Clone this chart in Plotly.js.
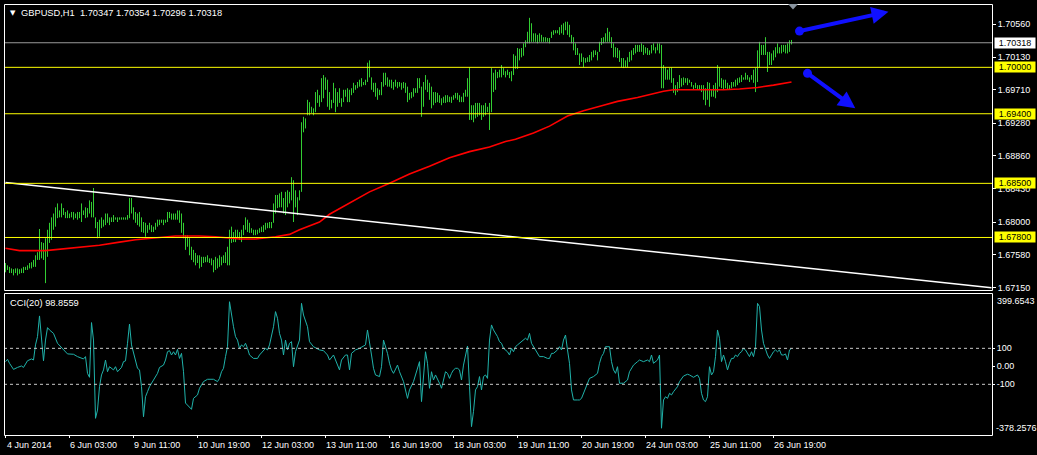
<!DOCTYPE html>
<html><head><meta charset="utf-8">
<script src="https://cdn.plot.ly/plotly-3.0.1.min.js"></script>
<style>html,body{margin:0;padding:0;background:#000;overflow:hidden}#chart{width:1037px;height:455px}</style>
</head><body><div id="chart"></div>
<script>
// ---- GBPUSD H1 bars (bar 0 = first visible bar, 4 Jun 2014) ----
const highs = [
1.6747,1.6744,1.6742,1.6740,1.6739,1.6740,1.6740,1.6739,1.6740,1.6742,
1.6742,1.6744,1.6747,1.6748,1.6751,1.6757,1.6761,1.6791,1.6774,1.6773,
1.6779,1.6790,1.6799,1.6806,1.6811,1.6819,1.6824,1.6815,1.6824,1.6818,
1.6813,1.6815,1.6811,1.6813,1.6813,1.6811,1.6813,1.6813,1.6824,1.6815,
1.6819,1.6818,1.6828,1.6826,1.6844,1.6806,1.6800,1.6803,1.6806,1.6803,
1.6811,1.6811,1.6806,1.6806,1.6809,1.6806,1.6806,1.6806,1.6806,1.6806,
1.6806,1.6809,1.6831,1.6831,1.6819,1.6813,1.6811,1.6813,1.6806,1.6800,
1.6799,1.6796,1.6799,1.6796,1.6794,1.6799,1.6803,1.6803,1.6803,1.6803,
1.6803,1.6813,1.6813,1.6811,1.6811,1.6811,1.6815,1.6815,1.6811,1.6799,
1.6783,1.6783,1.6779,1.6768,1.6764,1.6760,1.6757,1.6757,1.6755,1.6755,
1.6755,1.6757,1.6753,1.6753,1.6751,1.6755,1.6753,1.6757,1.6755,1.6757,
1.6761,1.6768,1.6790,1.6794,1.6787,1.6790,1.6790,1.6787,1.6790,1.6796,
1.6806,1.6803,1.6799,1.6792,1.6790,1.6790,1.6790,1.6792,1.6794,1.6796,
1.6799,1.6799,1.6800,1.6800,1.6824,1.6835,1.6835,1.6837,1.6839,1.6831,
1.6839,1.6841,1.6839,1.6858,1.6854,1.6841,1.6832,1.6841,1.6929,1.6936,
1.6934,1.6958,1.6955,1.6949,1.6947,1.6968,1.6971,1.6964,1.6986,1.6990,
1.6987,1.6984,1.6968,1.6958,1.6980,1.6973,1.6968,1.6973,1.6960,1.6971,
1.6971,1.6973,1.6971,1.6973,1.6980,1.6977,1.6981,1.6984,1.6986,1.6981,
1.6984,1.7006,1.7009,1.6987,1.6980,1.6980,1.6973,1.6971,1.6981,1.6993,
1.6993,1.6987,1.6984,1.6984,1.6981,1.6984,1.6981,1.6981,1.6980,1.6981,
1.6980,1.6975,1.6967,1.6968,1.6973,1.6973,1.6986,1.6986,1.6975,1.6981,
1.6990,1.6984,1.6980,1.6975,1.6968,1.6968,1.6967,1.6964,1.6960,1.6962,
1.6964,1.6964,1.6962,1.6962,1.6964,1.6967,1.6967,1.6964,1.6962,1.6967,
1.6971,1.6986,1.7000,1.6951,1.6951,1.6954,1.6954,1.6954,1.6951,1.6951,
1.6954,1.6949,1.6954,1.6999,1.6993,1.6997,1.6994,1.6997,1.7003,1.6999,
1.6995,1.6997,1.6994,1.6995,1.7017,1.7015,1.7025,1.7024,1.7025,1.7031,
1.7035,1.7046,1.7064,1.7057,1.7044,1.7044,1.7042,1.7044,1.7042,1.7039,
1.7039,1.7038,1.7038,1.7046,1.7048,1.7048,1.7048,1.7052,1.7055,1.7057,
1.7059,1.7059,1.7055,1.7042,1.7039,1.7031,1.7025,1.7018,1.7018,1.7013,
1.7012,1.7013,1.7016,1.7020,1.7022,1.7022,1.7020,1.7033,1.7038,1.7039,
1.7044,1.7051,1.7046,1.7039,1.7031,1.7026,1.7025,1.7022,1.7012,1.7012,
1.7009,1.7013,1.7020,1.7022,1.7025,1.7029,1.7029,1.7029,1.7031,1.7029,
1.7026,1.7025,1.7022,1.7029,1.7031,1.7026,1.7031,1.7031,1.7029,1.7003,
1.7000,1.6997,1.6999,1.7000,1.6986,1.6977,1.6981,1.6990,1.6986,1.6987,
1.6986,1.6986,1.6984,1.6981,1.6977,1.6980,1.6977,1.6977,1.6977,1.6977,
1.6973,1.6981,1.6980,1.6971,1.6977,1.6980,1.7003,1.7000,1.6986,1.6984,
1.6984,1.6980,1.6977,1.6981,1.6981,1.6984,1.6986,1.6987,1.6990,1.6987,
1.6993,1.6990,1.6987,1.6990,1.6997,1.6999,1.7022,1.7033,1.7029,1.7029,
1.7039,1.7020,1.7020,1.7018,1.7022,1.7026,1.7031,1.7026,1.7029,1.7029,
1.7029,1.7031,1.7035,1.70354];
const lows = [
1.6735,1.6738,1.6734,1.6734,1.6731,1.6734,1.6731,1.6733,1.6734,1.6734,
1.6738,1.6738,1.6740,1.6740,1.6742,1.6742,1.6751,1.6751,1.6753,1.6751,
1.6721,1.6755,1.6773,1.6777,1.6790,1.6794,1.6805,1.6806,1.6806,1.6809,
1.6805,1.6805,1.6805,1.6806,1.6803,1.6805,1.6803,1.6805,1.6800,1.6809,
1.6805,1.6806,1.6811,1.6806,1.6806,1.6792,1.6779,1.6781,1.6792,1.6794,
1.6796,1.6799,1.6796,1.6800,1.6800,1.6803,1.6800,1.6803,1.6803,1.6803,
1.6803,1.6803,1.6805,1.6811,1.6803,1.6799,1.6796,1.6794,1.6787,1.6786,
1.6781,1.6786,1.6790,1.6787,1.6787,1.6790,1.6794,1.6796,1.6799,1.6796,
1.6799,1.6800,1.6805,1.6803,1.6803,1.6803,1.6803,1.6799,1.6786,1.6779,
1.6764,1.6768,1.6757,1.6751,1.6748,1.6744,1.6747,1.6740,1.6742,1.6747,
1.6748,1.6748,1.6747,1.6744,1.6735,1.6738,1.6740,1.6742,1.6744,1.6747,
1.6747,1.6744,1.6744,1.6773,1.6774,1.6774,1.6779,1.6777,1.6774,1.6783,
1.6790,1.6787,1.6786,1.6786,1.6783,1.6783,1.6784,1.6786,1.6787,1.6787,
1.6790,1.6792,1.6792,1.6792,1.6799,1.6811,1.6818,1.6819,1.6819,1.6811,
1.6809,1.6819,1.6824,1.6828,1.6800,1.6819,1.6809,1.6828,1.6839,1.6916,
1.6921,1.6938,1.6938,1.6941,1.6938,1.6942,1.6954,1.6949,1.6955,1.6960,
1.6971,1.6949,1.6945,1.6947,1.6954,1.6942,1.6949,1.6954,1.6949,1.6955,
1.6962,1.6955,1.6955,1.6964,1.6967,1.6971,1.6973,1.6975,1.6975,1.6977,
1.6977,1.6981,1.6987,1.6971,1.6968,1.6962,1.6958,1.6964,1.6964,1.6975,
1.6977,1.6975,1.6975,1.6973,1.6971,1.6975,1.6973,1.6975,1.6971,1.6973,
1.6967,1.6955,1.6958,1.6960,1.6962,1.6967,1.6967,1.6973,1.6936,1.6949,
1.6971,1.6968,1.6958,1.6947,1.6951,1.6954,1.6955,1.6954,1.6951,1.6954,
1.6954,1.6955,1.6955,1.6954,1.6958,1.6960,1.6958,1.6955,1.6955,1.6955,
1.6962,1.6962,1.6932,1.6932,1.6929,1.6934,1.6936,1.6938,1.6932,1.6936,
1.6938,1.6942,1.6919,1.6942,1.6968,1.6971,1.6986,1.6987,1.6987,1.6990,
1.6987,1.6990,1.6986,1.6982,1.6990,1.6998,1.6998,1.7009,1.7013,1.7015,
1.7026,1.7031,1.7031,1.7033,1.7033,1.7033,1.7031,1.7033,1.7033,1.7033,
1.7033,1.7033,1.7031,1.7038,1.7042,1.7044,1.7044,1.7042,1.7044,1.7042,
1.7048,1.7042,1.7039,1.7031,1.7022,1.7016,1.7016,1.7003,1.7007,1.7000,
1.7006,1.7007,1.7007,1.7009,1.7013,1.7016,1.7009,1.7020,1.7029,1.7031,
1.7033,1.7033,1.7033,1.7025,1.7013,1.7013,1.7012,1.7007,1.7000,1.6999,
1.7000,1.7000,1.7007,1.7009,1.7016,1.7018,1.7020,1.7020,1.7020,1.7016,
1.7018,1.7016,1.7016,1.7018,1.7022,1.7018,1.7022,1.7018,1.6973,1.6973,
1.6984,1.6984,1.6984,1.6980,1.6967,1.6964,1.6968,1.6973,1.6975,1.6977,
1.6980,1.6977,1.6980,1.6975,1.6971,1.6973,1.6971,1.6971,1.6968,1.6958,
1.6951,1.6958,1.6949,1.6962,1.6962,1.6960,1.6968,1.6975,1.6973,1.6971,
1.6973,1.6971,1.6971,1.6973,1.6975,1.6975,1.6977,1.6980,1.6981,1.6984,
1.6984,1.6984,1.6981,1.6984,1.6980,1.6968,1.6981,1.7000,1.7016,1.7016,
1.7016,1.6994,1.7003,1.7003,1.7009,1.7013,1.7018,1.7018,1.7018,1.7020,
1.7018,1.7018,1.7020,1.70296];

// ---- Moving average (red) read at selected bars ----
const maIdx = [0,7,20,27,37,47,57,65,77,85,97,105,117,125,135,142,147,157,162,172,182,192,202,212,222,232,242,250,255,264,272,281,289,299,306,316,322,329,334,359,367,376,384,393];
const maVal = [1.6766,1.6763,1.6763,1.6765,1.6768,1.6770,1.6774,1.6777,1.6780,1.6782,1.6782,1.6781,1.6778,1.6778,1.6781,1.6784,1.6790,1.6800,1.6810,1.6824,1.6839,1.6850,1.6862,1.6872,1.6883,1.6891,1.6897,1.6904,1.6907,1.6915,1.6924,1.6937,1.6944,1.6951,1.6956,1.6961,1.6965,1.6969,1.6971,1.6971,1.6972,1.6974,1.6977,1.6981];

// ---- CCI(20) ----
const cciIdx = [0,1,2,4,6,8,9,11,13,14,15,16,17,18,19,20,21,22,24,26,29,31,34,36,39,40,41,42,43,44,45,46,47,48,49,50,51,52,54,55,56,58,59,60,61,62,63,64,65,66,67,68,69,70,71,72,74,76,77,79,80,81,82,83,84,85,86,87,88,89,90,91,92,93,94,95,96,97,99,101,104,106,107,108,109,110,111,112,113,114,115,116,117,118,119,120,121,122,124,126,127,129,130,131,132,134,135,136,137,138,139,140,141,142,143,144,
145,147,148,149,151,152,154,157,159,161,162,164,165,167,168,170,171,172,173,175,177,180,181,182,183,184,185,187,188,189,191,192,193,194,196,197,199,201,202,204,206,207,208,209,210,211,212,213,214,215,216,217,218,219,220,221,222,223,224,225,226,227,228,229,230,231,232,233,234,235,236,237,238,239,240,241,242,243,244,246,247,248,249,251,252,253,254,255,256,257,259,260,261,262,263,264,266,267,269,271,272,273,274,276,277,278,279,280,281,282,283,284,286,287,288,289,291,292,294,296,297,298,299,300,302,303,304,305,306,307,309,311,312,314,316,317,319,321,322,323,324,326,327,328,329,330,331,332,333,334,336,337,339,341,342,344,346,347,348,349,350,351,352,353,354,355,356,357,358,359,360,361,362,363,364,365,366,367,368,369,370,371,372,373,374,375,376,377,378,379,380,381,382,384,385,386,387,388,389,390,391,392,393];
const cciVal = [26,39,17,-17,-6,2,-6,31,41,35,119,165,280,146,31,146,215,202,183,128,91,69,67,54,41,54,-39,-61,243,146,-289,-243,-113,-48,-20,35,-30,-2,-20,-2,-30,-6,26,30,128,235,119,72,26,-11,-20,-113,-280,-169,-141,-113,-76,-39,-6,7,35,81,87,63,81,63,94,44,72,-30,-204,-215,-224,-239,-178,-169,-159,-122,-85,-72,-72,-85,-67,-30,-11,54,109,359,276,220,165,146,100,119,109,128,100,63,44,44,63,91,100,91,119,220,304,267,183,146,63,146,91,128,137,-2,
81,146,350,285,220,137,109,91,87,63,35,63,35,-20,35,63,63,-20,72,91,100,119,202,119,63,-11,-48,-57,-2,146,72,17,-20,-39,7,-30,-85,-178,-131,-85,-2,26,-196,-39,81,17,-122,-30,-76,-48,-67,-94,-122,-67,-30,-39,-67,-39,-20,-11,-11,-20,-76,7,54,113,-113,-335,-250,-131,-113,-57,-131,-57,-48,-67,146,230,202,165,137,128,100,81,63,100,81,109,119,128,150,156,146,183,128,109,72,54,54,44,44,72,72,91,109,91,146,174,91,17,-131,-187,-187,-187,-178,-150,-85,-67,-57,-39,17,54,72,109,109,26,-20,-39,-2,-94,-94,-76,-30,7,26,35,26,35,26,63,17,35,63,-344,-187,-169,-178,-150,-159,-141,-113,-85,-54,-44,-48,-61,-48,-67,-150,-187,-196,-169,-2,-48,-30,54,202,156,26,63,26,-20,17,44,44,63,54,72,81,100,91,72,54,81,54,109,350,332,202,128,91,63,44,81,91,81,91,63,63,69,35,91,98.8559];
const cciLevels = [100, -100];
const cciMax = 399.6543, cciMin = -378.2576;

// ---- drawn objects ----
const trendIdx = [0, 493];
const trendVal = [1.6851, 1.6715];
const levels = [1.70000, 1.69400, 1.68500, 1.67800];
const bidPrice = 1.70318;
const arrowFromIdx = [397, 401], arrowFromVal = [1.70469, 1.69922];
const arrowToIdx = [441.5, 424.9], arrowToVal = [1.70719, 1.69470];

// ---- axis labels ----
const priceTicks = [1.70560,1.70130,1.69710,1.69280,1.68860,1.68430,1.68000,1.67580,1.67150];
const cciTicks = [100, 0, -100];
const cciTickText = ['100', '0.00', '-100'];
const timeIdx = [0,32,64,96,128,160,192,224,256,288,320,352,384];
const timeLabels = ['4 Jun 2014','6 Jun 03:00','9 Jun 11:00','10 Jun 19:00','12 Jun 03:00','13 Jun 11:00','16 Jun 19:00','18 Jun 03:00','19 Jun 11:00','20 Jun 19:00','24 Jun 03:00','25 Jun 11:00','26 Jun 19:00'];
const header = 'GBPUSD,H1\u00a0 1.70347 1.70354 1.70296 1.70318';
const cciHeader = 'CCI(20) 98.8559';

// ---- build ----
const W = 1037, H = 455, ML = 4, MR = 45, MT = 4, MB = 19;
const PW = W - ML - MR, PH = H - MT - MB;
const yp = py => (H - MB - py) / PH;   // pixel row -> paper y
const xp = px => (px - ML) / PW;       // pixel column -> paper x
const FONT = 'Liberation Sans, Arial, sans-serif';
const txt = '#ffffff';

const bx = [], by = [];
highs.forEach((h, i) => { bx.push(i, i, null); by.push(h, lows[i], null); });

const traces = [
  {x: bx, y: by, type: 'scatter', mode: 'lines', line: {color: '#32cd32', width: 1}, xaxis: 'x', yaxis: 'y', hoverinfo: 'skip'},
  {x: maIdx, y: maVal, type: 'scatter', mode: 'lines', line: {color: '#ff0000', width: 1.6}, xaxis: 'x', yaxis: 'y'},
  {x: trendIdx, y: trendVal, type: 'scatter', mode: 'lines', line: {color: '#ffffff', width: 1.5}, xaxis: 'x', yaxis: 'y'},
  {x: arrowFromIdx, y: arrowFromVal, type: 'scatter', mode: 'markers', marker: {color: '#1010ff', size: 9}, xaxis: 'x', yaxis: 'y'},
  {x: cciIdx, y: cciVal, type: 'scatter', mode: 'lines', line: {color: '#20b2aa', width: 1}, xaxis: 'x', yaxis: 'y2'}
];

const shapes = [];
levels.forEach(v => shapes.push({type: 'line', xref: 'paper', yref: 'y', x0: 0, x1: 1, y0: v, y1: v, line: {color: '#ffff00', width: 1}}));
shapes.push({type: 'line', xref: 'paper', yref: 'y', x0: 0, x1: 1, y0: bidPrice, y1: bidPrice, line: {color: '#9a9a9a', width: 1}});
cciLevels.forEach(v => shapes.push({type: 'line', xref: 'paper', yref: 'y2', x0: 0, x1: 1, y0: v, y1: v, line: {color: '#c8c8c8', width: 1, dash: '3px,3px'}}));
// panel frames (half-pixel aligned for crisp 1px lines)
shapes.push({type: 'rect', xref: 'paper', yref: 'paper', x0: xp(4.5), x1: xp(992.5), y0: yp(290.5), y1: yp(4.5), line: {color: '#ffffff', width: 1}});
shapes.push({type: 'rect', xref: 'paper', yref: 'paper', x0: xp(4.5), x1: xp(992.5), y0: yp(435.5), y1: yp(293.5), line: {color: '#ffffff', width: 1}});
// chart-shift marker
shapes.push({type: 'path', xref: 'paper', yref: 'paper', path: `M ${xp(788)} ${yp(4)} L ${xp(798)} ${yp(4)} L ${xp(793)} ${yp(9.5)} Z`, fillcolor: '#8a95a0', line: {width: 0}});

const annotations = [];
annotations.push({xref: 'paper', yref: 'paper', x: xp(8), y: yp(13), xanchor: 'left', yanchor: 'middle', text: '▼', showarrow: false, font: {family: 'DejaVu Sans', size: 7, color: txt}});
annotations.push({xref: 'paper', yref: 'paper', x: xp(19), y: yp(13.3), xanchor: 'left', yanchor: 'middle', text: header, showarrow: false, font: {family: FONT, size: 9.3, color: txt}});
annotations.push({xref: 'paper', yref: 'paper', x: xp(8), y: yp(302.5), xanchor: 'left', yanchor: 'middle', text: cciHeader, showarrow: false, font: {family: FONT, size: 9.3, color: txt}});
levels.forEach(v => annotations.push({xref: 'paper', yref: 'y', x: 1, xshift: 2, y: v, xanchor: 'left', yanchor: 'middle', text: v.toFixed(5), showarrow: false, bgcolor: '#ffff00', width: 39, height: 9, borderpad: 0.5, align: 'center', font: {family: FONT, size: 9, color: '#000'}}));
annotations.push({xref: 'paper', yref: 'y', x: 1, xshift: 2, y: bidPrice, xanchor: 'left', yanchor: 'middle', text: bidPrice.toFixed(5), showarrow: false, bgcolor: '#ffffff', width: 39, height: 9, borderpad: 0.5, align: 'center', font: {family: FONT, size: 9, color: '#000'}});
annotations.push({xref: 'paper', yref: 'paper', x: 1, xshift: 3, y: yp(300.7), xanchor: 'left', yanchor: 'middle', text: String(cciMax), showarrow: false, font: {family: FONT, size: 9, color: txt}});
annotations.push({xref: 'paper', yref: 'paper', x: 1, xshift: 2, y: yp(427.7), xanchor: 'left', yanchor: 'middle', text: String(cciMin), showarrow: false, font: {family: FONT, size: 9, color: txt}});
timeIdx.forEach((t, k) => annotations.push({xref: 'x', yref: 'paper', x: t, xshift: k === 0 ? -1 : -2, y: yp(445), xanchor: 'left', yanchor: 'middle', text: timeLabels[k], showarrow: false, font: {family: FONT, size: 9, color: txt}}));
arrowToIdx.forEach((t, k) => annotations.push({xref: 'x', yref: 'y', x: t, y: arrowToVal[k], axref: 'x', ayref: 'y', ax: arrowFromIdx[k], ay: arrowFromVal[k], text: '', showarrow: true, arrowhead: 2, arrowsize: 0.85, arrowwidth: 4, arrowcolor: '#1010ff', standoff: 0, startstandoff: 0}));

const layout = {
  width: W, height: H, margin: {l: ML, r: MR, t: MT, b: MB, pad: 0},
  paper_bgcolor: '#000', plot_bgcolor: '#000', showlegend: false,
  xaxis: {domain: [0, 1], range: [-0.75, 493.25], anchor: 'y2', showgrid: false, zeroline: false, showline: false,
          tickmode: 'array', tickvals: timeIdx, ticks: 'outside', ticklen: 3, tickcolor: '#ffffff', tickwidth: 1, showticklabels: false},
  yaxis: {domain: [yp(291), 1], range: [1.67108, 1.70819], side: 'right', anchor: 'x', showgrid: false, zeroline: false, showline: false,
          tickmode: 'array', tickvals: priceTicks, ticktext: priceTicks.map(v => v.toFixed(5)), ticks: 'outside', ticklen: 3, tickcolor: '#ffffff',
          tickfont: {family: FONT, size: 9, color: txt}},
  yaxis2: {domain: [yp(434.4), yp(294.4)], range: [cciMin, cciMax], side: 'right', anchor: 'x', showgrid: false, zeroline: false, showline: false,
          tickmode: 'array', tickvals: cciTicks, ticktext: cciTickText, ticks: 'outside', ticklen: 2, tickcolor: '#ffffff',
          tickfont: {family: FONT, size: 9, color: txt}},
  shapes: shapes, annotations: annotations
};
Plotly.newPlot('chart', traces, layout, {staticPlot: true, displayModeBar: false});
</script>
</body></html>
